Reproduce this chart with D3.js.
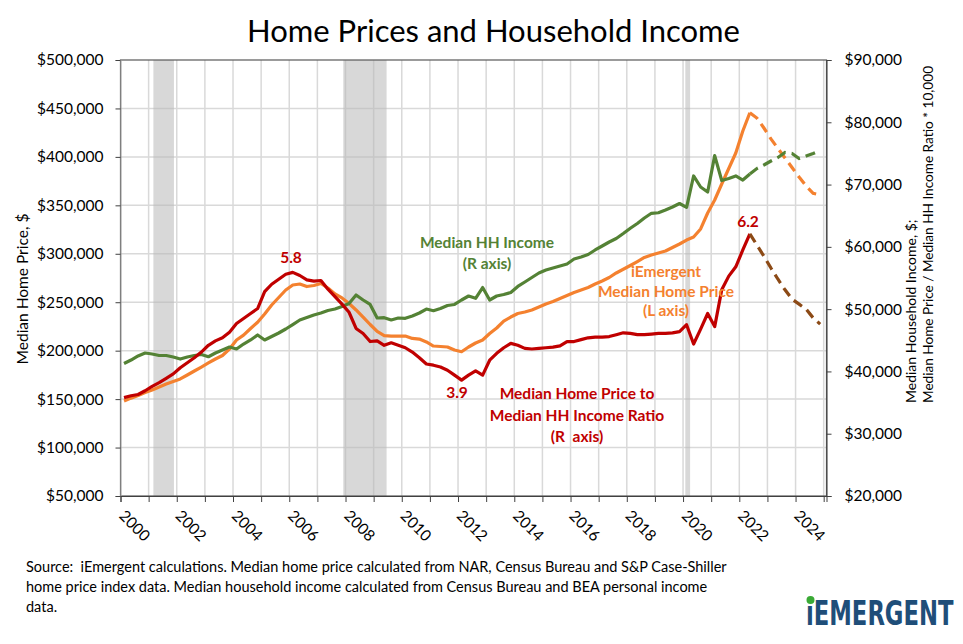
<!DOCTYPE html>
<html>
<head>
<meta charset="utf-8">
<script src="https://cdn.jsdelivr.net/npm/d3@7"></script>
<style>
  body { margin: 0; background: #fff; }
  svg { font-family: Lato, "Open Sans", sans-serif; }
</style>
</head>
<body>
<script>
// quarterly series, 2000Q1 .. 2024Q4 (forecast from 2022Q2)
var startYear = 2000;
var forecastFrom = 89; // index of 2022Q2

// iEmergent median home price, $ (left axis)
var homePrice = [
  148000,151000,153700,156800,159400,162500,165600,168200,170800,174900,
  179000,183100,187300,191400,195000,201700,211000,216000,222900,229300,
  237800,247100,254900,262600,267800,268800,266200,267300,269300,264700,
  258500,254400,248700,242000,234700,227000,219800,215600,215100,215100,
  215100,212600,212000,209000,204800,204300,203800,200700,198900,203800,
  207900,211000,217700,223400,230600,234700,238400,239900,242000,245100,
  248200,250700,253800,256900,260000,262600,265200,268800,271900,275500,
  280200,284000,287900,292000,296200,298700,300800,302900,306500,310100,
  314200,317300,325600,342100,355500,372000,388000,404000,426700,445600,
  440100,429800,418500,408700,398900,389000,379200,370000,362400,360700
];

// median household income, $ (right axis)
var hhIncome = [
  41270,41830,42480,42960,42800,42560,42560,42320,41990,42320,
  42560,42720,42360,42960,43440,43920,43600,44400,45050,45850,
  45050,45610,46170,46810,47530,48260,48660,49060,49380,49780,
  50020,50420,50910,52270,51470,50750,48580,48630,48260,48580,
  48530,48900,49380,50020,49750,50100,50580,50750,51470,52110,
  51740,53470,51470,52110,52350,52670,53640,54360,55080,55800,
  56280,56600,56930,57250,58050,58370,58770,59500,60140,60780,
  61340,62140,62980,63750,64630,65390,65480,65920,66400,66960,
  66350,71380,69610,68810,74640,70650,70980,71380,70730,71700,
  72580,73140,73780,74350,75150,74990,74190,74590,74990,75470
];

// home price / income ratio (right axis, * 10,000)
var priceRatio = [
  3.58,3.61,3.63,3.69,3.76,3.82,3.89,3.96,4.06,4.14,
  4.22,4.31,4.42,4.49,4.54,4.63,4.77,4.85,4.93,5.01,
  5.28,5.40,5.48,5.56,5.59,5.54,5.47,5.45,5.46,5.32,
  5.20,5.08,4.95,4.69,4.61,4.48,4.49,4.42,4.46,4.42,
  4.38,4.31,4.22,4.12,4.10,4.07,4.02,3.94,3.86,3.94,
  4.01,3.94,4.18,4.29,4.38,4.45,4.42,4.37,4.36,4.37,
  4.38,4.39,4.41,4.48,4.48,4.51,4.54,4.55,4.55,4.56,
  4.59,4.62,4.61,4.59,4.59,4.60,4.61,4.61,4.62,4.64,
  4.75,4.44,4.68,4.93,4.72,5.31,5.53,5.68,5.95,6.21,
  6.03,5.85,5.66,5.48,5.31,5.16,5.08,5.00,4.86,4.76
];

// recessions, fractional years
var recessions = [[2001.17, 2001.9], [2007.92, 2009.46], [2020.08, 2020.25]];

var leftTicks = [50000,100000,150000,200000,250000,300000,350000,400000,450000,500000];
var rightTicks = [20000,30000,40000,50000,60000,70000,80000,90000];
var yearTicks = d3.range(2000, 2026);
var yearLabels = [2000,2002,2004,2006,2008,2010,2012,2014,2016,2018,2020,2022,2024];

var W = 963, H = 644;
var pLeft = 120.5, pRight = 826.5, pTop = 60, pBottom = 496;

var svg = d3.select("body").append("svg").attr("width", W).attr("height", H);

var x = d3.scaleLinear().domain([2000, 2025.1]).range([pLeft, pRight]);
var yL = d3.scaleLinear().domain([50000, 500000]).range([pBottom, pTop]);
var yR = d3.scaleLinear().domain([20000, 90000]).range([pBottom, pTop]);

function qt(i) { return startYear + (i + 0.5) / 4; }

// grid
svg.append("g").selectAll("line").data(yearTicks.slice(1)).enter().append("line")
  .attr("x1", function(d){ return x(d); }).attr("x2", function(d){ return x(d); })
  .attr("y1", pTop).attr("y2", pBottom)
  .attr("stroke", "#d9d9d9").attr("stroke-width", 1.5);
svg.append("g").selectAll("line").data(leftTicks.slice(1, -1)).enter().append("line")
  .attr("x1", pLeft).attr("x2", pRight)
  .attr("y1", function(d){ return yL(d); }).attr("y2", function(d){ return yL(d); })
  .attr("stroke", "#d9d9d9").attr("stroke-width", 1.5);

// recession bars
svg.append("g").selectAll("rect").data(recessions).enter().append("rect")
  .attr("x", function(d){ return x(d[0]); })
  .attr("width", function(d){ return x(d[1]) - x(d[0]); })
  .attr("y", pTop).attr("height", pBottom - pTop)
  .attr("fill", "#b8b8b8").attr("fill-opacity", 0.55);

// border
svg.append("rect").attr("x", pLeft).attr("y", pTop)
  .attr("width", pRight - pLeft).attr("height", pBottom - pTop)
  .attr("fill", "none").attr("stroke", "#595959").attr("stroke-width", 1.2);

// lines
function drawSeries(vals, yScale, color, dashColor) {
  var pts = vals.map(function(v, i){ return [qt(i), v]; });
  var line = d3.line().x(function(d){ return x(d[0]); }).y(function(d){ return yScale(d[1]); });
  svg.append("path").datum(pts.slice(0, forecastFrom + 1)).attr("d", line)
    .attr("fill", "none").attr("stroke", color).attr("stroke-width", 3.2)
    .attr("stroke-linejoin", "round");
  svg.append("path").datum(pts.slice(forecastFrom)).attr("d", line)
    .attr("fill", "none").attr("stroke", dashColor).attr("stroke-width", 3.2)
    .attr("stroke-dasharray", "10,6");
}
drawSeries(homePrice, yL, "#f4812f", "#f4812f");
drawSeries(hhIncome, yR, "#548235", "#548235");
drawSeries(priceRatio.map(function(r){ return r * 10000; }), yR, "#c00000", "#8c4a16");

// axes
var axL = svg.append("g").attr("transform", "translate(" + pLeft + ",0)")
  .call(d3.axisLeft(yL).tickValues(leftTicks).tickFormat(d3.format("$,")).tickSize(5).tickPadding(12));
var axR = svg.append("g").attr("transform", "translate(" + pRight + ",0)")
  .call(d3.axisRight(yR).tickValues(rightTicks).tickFormat(d3.format("$,")).tickSize(5).tickPadding(13));
var axB = svg.append("g").attr("transform", "translate(0," + pBottom + ")")
  .call(d3.axisBottom(x).tickValues(yearTicks).tickSize(6)
    .tickFormat(function(d){ return yearLabels.indexOf(d) >= 0 ? d : ""; }));

axL.select(".domain").attr("stroke", "#a6a6a6");
axR.select(".domain").attr("stroke", "#404040");
axB.select(".domain").attr("stroke", "#404040");
[axL, axR, axB].forEach(function(a){
  a.selectAll(".tick line").attr("stroke", "#404040");
  a.selectAll("text").attr("font-size", 15.5).attr("fill", "#000")
    .attr("font-family", "Lato, sans-serif");
});
axB.selectAll("text").attr("x", 0).attr("y", 0).attr("dy", "0.35em")
  .attr("transform", "translate(1,17) rotate(45)").style("text-anchor", "start");

// title and axis titles
svg.append("text").attr("x", 493.5).attr("y", 42).attr("text-anchor", "middle")
  .attr("font-size", 31).text("Home Prices and Household Income");

svg.append("text").attr("transform", "translate(28,289) rotate(-90)")
  .attr("text-anchor", "middle").attr("font-size", 15.5).text("Median Home Price, $");

svg.append("text").attr("transform", "translate(916,403) rotate(-90)")
  .attr("font-size", 14).text("Median Household Income, $;");
svg.append("text").attr("transform", "translate(933,403) rotate(-90)")
  .attr("font-size", 13.6).text("Median Home Price / Median HH Income Ratio * 10,000");

// annotations
var notes = [
  {t: "5.8", x: 291, y: 263, c: "#c00000"},
  {t: "3.9", x: 457, y: 398, c: "#c00000"},
  {t: "6.2", x: 748, y: 227, c: "#c00000"},
  {t: "Median HH Income", x: 487, y: 248, c: "#548235"},
  {t: "(R axis)", x: 487, y: 269, c: "#548235"},
  {t: "iEmergent", x: 666, y: 277, c: "#f4812f"},
  {t: "Median Home Price", x: 666, y: 297, c: "#f4812f"},
  {t: "(L axis)", x: 666, y: 316, c: "#f4812f"},
  {t: "Median Home Price to", x: 577, y: 399, c: "#c00000"},
  {t: "Median HH Income Ratio", x: 577, y: 421, c: "#c00000"},
  {t: "(R  axis)", x: 577, y: 442, c: "#c00000"}
];
svg.append("g").selectAll("text").data(notes).enter().append("text")
  .attr("x", function(d){ return d.x; }).attr("y", function(d){ return d.y; })
  .attr("text-anchor", "middle").attr("font-weight", "bold").attr("font-size", 15.5)
  .attr("fill", function(d){ return d.c; }).style("white-space", "pre")
  .text(function(d){ return d.t; });

// source
var source = [
  "Source:  iEmergent calculations. Median home price calculated from NAR, Census Bureau and S&P Case-Shiller",
  "home price index data. Median household income calculated from Census Bureau and BEA personal income",
  "data."
];
svg.append("g").selectAll("text").data(source).enter().append("text")
  .attr("x", 26).attr("y", function(d, i){ return 572 + i * 20; })
  .attr("font-size", 14.5).style("white-space", "pre").text(function(d){ return d; });

// logo (squeezed horizontally)
var logo = svg.append("g").attr("transform", "translate(806,625) scale(0.765,1)");
logo.append("text").attr("x", 0).attr("y", 0)
  .attr("font-family", "'DejaVu Sans Condensed', 'DejaVu Sans', sans-serif")
  .attr("font-weight", "bold").attr("font-size", 33).attr("fill", "#1f4e79")
  .text("\u0131EMERGENT");
svg.append("circle").attr("cx", 810.5).attr("cy", 600).attr("r", 4).attr("fill", "#3aaa35");
</script>
</body>
</html>
